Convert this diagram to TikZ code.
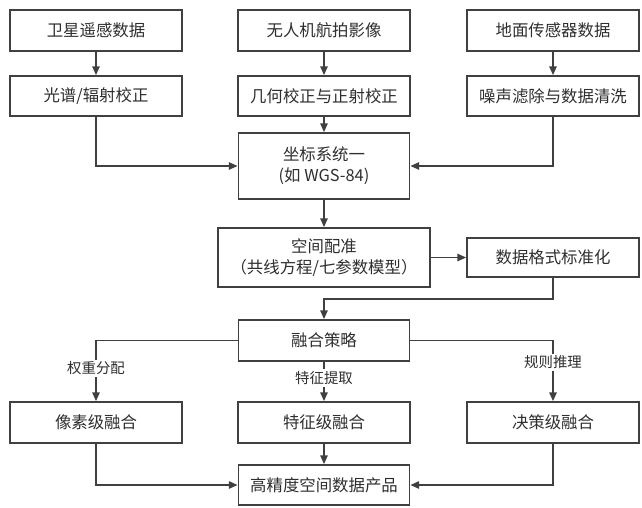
\documentclass[tikz,border=0pt]{standalone}
\usepackage{fontspec}
\setmainfont{Noto Sans CJK SC}
\usetikzlibrary{arrows.meta}
\definecolor{linec}{HTML}{404040}
\definecolor{textc}{HTML}{2E2E2E}
\tikzset{
  bw/.style={minimum width=#1*0.75pt},
  bh/.style={minimum height=#1*0.75pt},
  box/.style={draw=linec, line width=1.35pt, inner sep=0pt, align=center,
    text=textc, font=\fontsize{12.3}{16}\selectfont},
  arr/.style={draw=linec, line width=1.1pt, -{Triangle[length=6.5pt,width=5.5pt]}},
  lbl/.style={fill=white, inner sep=1.5pt, text=textc, font=\fontsize{10.8}{12}\selectfont}
}
\begin{document}
\begin{tikzpicture}[x=0.75pt, y=-0.75pt]
\useasboundingbox (0,0) rectangle (642,507);
% row 1
\node[box, bw=172, bh=41] (A1) at (96,30.5) {卫星遥感数据};
\node[box, bw=172, bh=41] (B1) at (324,30.5) {无人机航拍影像};
\node[box, bw=172, bh=41] (C1) at (553,30.5) {地面传感器数据};
% row 2
\node[box, bw=172, bh=40] (A2) at (96,96) {光谱/辐射校正};
\node[box, bw=172, bh=40] (B2) at (324,96) {几何校正与正射校正};
\node[box, bw=172, bh=40] (C2) at (553,96) {噪声滤除与数据清洗};
% coordinate unification
\node[box, bw=171, bh=66] (Co) at (324,166) {坐标系统一\\(如 WGS-84)};
% spatial registration
\node[box, bw=212, bh=59] (Sp) at (324,257.5) {空间配准\\（共线方程/七参数模型）};
\node[box, bw=172, bh=39] (Df) at (553,257.5) {数据格式标准化};
% fusion strategy
\node[box, bw=171, bh=41] (Fs) at (324,340.5) {融合策略};
% fusion levels
\node[box, bw=172, bh=41] (P1) at (96,422.5) {像素级融合};
\node[box, bw=172, bh=41] (P2) at (324,422.5) {特征级融合};
\node[box, bw=172, bh=41] (P3) at (553,422.5) {决策级融合};
% final
\node[box, bw=171, bh=40] (Fi) at (324,485) {高精度空间数据产品};
% connectors
\draw[arr] (A1) -- (A2);
\draw[arr] (B1) -- (B2);
\draw[arr] (C1) -- (C2);
\draw[arr] (B2) -- (Co);
\draw[arr] (A2.south) |- (Co.west);
\draw[arr] (C2.south) |- (Co.east);
\draw[arr] (Co) -- (Sp);
\draw[arr] (Sp.east) -- (Df.west);
\draw[arr] (Df.south) -- ++(0,21) -| (Fs.north);
\draw[arr] (Fs.west) -| node[lbl, pos=0.73] {权重分配} (P1.north);
\draw[arr] (Fs.south) -- node[lbl, pos=0.41] {特征提取} (P2.north);
\draw[arr] (Fs.east) -| node[lbl, pos=0.68] {规则推理} (P3.north);
\draw[arr] (P2) -- (Fi);
\draw[arr] (P1.south) |- (Fi.west);
\draw[arr] (P3.south) |- (Fi.east);
\end{tikzpicture}
\end{document}
